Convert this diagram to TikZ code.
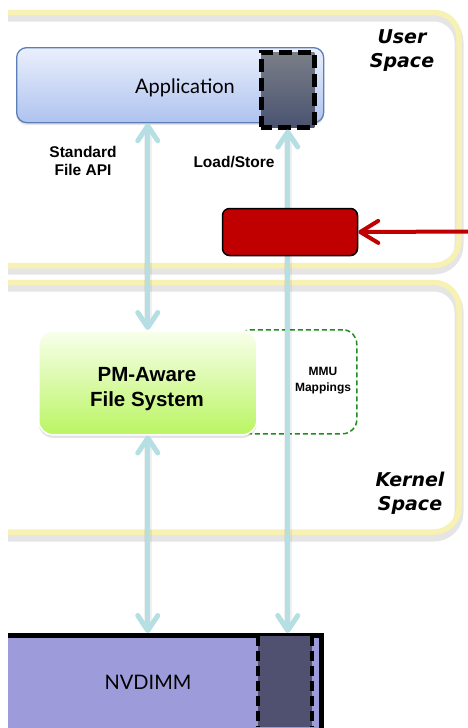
\documentclass[tikz,border=0pt]{standalone}
\usepackage{fontspec}
\setmainfont{Liberation Sans}
\newfontfamily\gillf{Lato}
\newfontfamily\verdf{DejaVu Sans}
\usetikzlibrary{arrows.meta,shadows}
\definecolor{panelyel}{HTML}{F7F1B3}
\definecolor{appborder}{HTML}{5C7EB8}
\definecolor{apptop}{HTML}{EAEFFC}
\definecolor{appbot}{HTML}{AFC3EF}
\definecolor{memtop}{HTML}{7A7E88}
\definecolor{membot}{HTML}{4A5470}
\definecolor{arrowblue}{HTML}{B5DFE3}
\definecolor{redbox}{HTML}{C00000}
\definecolor{pmtop}{HTML}{F9FFEC}
\definecolor{pmbot}{HTML}{BAF562}
\definecolor{mmugreen}{HTML}{1E8C1E}
\definecolor{nvfill}{HTML}{9E9BDB}
\definecolor{nvmemfill}{HTML}{505070}
\tikzset{
  panelline/.style={draw=panelyel, line width=5.5pt, rounded corners=25pt},
  panelshade/.style={draw=black, opacity=0.10, line width=9pt, rounded corners=25pt},
  appbox/.style={anchor=north west, inner sep=0pt, minimum width=307pt, minimum height=75pt,
    rounded corners=10pt, draw=appborder, line width=1.3pt, top color=apptop, bottom color=appbot,
    drop shadow={opacity=0.2, shadow xshift=0pt, shadow yshift=-2.5pt}},
  membox/.style={anchor=north west, inner sep=0pt, minimum width=53pt, minimum height=75pt,
    draw=black, line width=4.5pt, dash pattern=on 13pt off 6pt, dash phase=2pt, top color=memtop, bottom color=membot},
  lbl/.style={font=\bfseries\fontsize{15.5}{18}\selectfont, align=center, inner sep=0pt},
  spacelbl/.style={font=\verdf\bfseries\itshape\fontsize{19}{24}\selectfont, align=center, inner sep=0pt},
  gilllbl/.style={font=\gillf\fontsize{20}{24}\selectfont, inner sep=0pt, anchor=base},
  bluearrow/.style={draw=arrowblue, line width=5pt,
    {Straight Barb[length=15pt,width=20pt,line width=5pt,round]}-{Straight Barb[length=15pt,width=20pt,line width=5pt,round]},
    preaction={draw=black, opacity=0.06, line width=8pt, shorten >=10pt, shorten <=10pt, arrows=-}},
  redboxstyle/.style={anchor=north west, inner sep=0pt, minimum width=135pt, minimum height=47pt,
    rounded corners=7pt, fill=redbox, draw=black, line width=1.5pt},
  redarrow/.style={draw=redbox, line width=4pt, -{Straight Barb[length=18pt,width=22pt,line width=4pt,round]}},
  pmbox/.style={anchor=north west, inner sep=0pt, minimum width=218pt, minimum height=104pt,
    rounded corners=14pt, draw=white, line width=1.5pt, top color=pmtop, bottom color=pmbot,
    drop shadow={opacity=0.22, shadow xshift=0pt, shadow yshift=-3pt}},
  mmubox/.style={anchor=north west, inner sep=0pt, minimum width=120pt, minimum height=104pt,
    rounded corners=14pt, draw=mmugreen, line width=1.5pt, dash pattern=on 5pt off 3pt},
  nvbox/.style={anchor=north west, inner sep=0pt, minimum width=318.5pt, minimum height=95.5pt,
    fill=nvfill, draw=black, line width=5pt},
  nvmembox/.style={anchor=north west, inner sep=0pt, minimum width=54.5pt, minimum height=91pt,
    fill=nvmemfill},
  memdash/.style={draw=black, line width=4pt, dash pattern=on 10pt off 5pt},
}
\begin{document}
\begin{tikzpicture}[x=1pt,y=-1pt]
\useasboundingbox (0,0) rectangle (468,728);
\clip (8,-5) rectangle (470,730);
% panels
\draw[panelshade] (0,17) -- (459,17) -- (459,270) -- (0,270);
\draw[panelline] (0,12.5) -- (459,12.5) -- (459,265.5) -- (0,265.5);
\draw[panelshade] (0,287) -- (459,287) -- (459,537) -- (0,537);
\draw[panelline] (0,282.5) -- (459,282.5) -- (459,532) -- (0,532);
% application
\node[appbox] (app) at (16,47) {};
\node[gilllbl] (apptext) at (185,93) {Application};
\node[membox] (appmem) at (259,50) {};
% labels
\node[lbl] (stdapi) at (83,160.5) {Standard\\File API};
\node[lbl, anchor=base] (loadstore) at (234,167) {Load/Store};
% kernel
\node[mmubox] (mmu) at (236,329) {};
\node[pmbox] (pm) at (38,330) {};
\node[font=\bfseries\fontsize{20.5}{25}\selectfont, align=center, inner sep=0pt] (pmtext) at (147,389.5) {PM-Aware\\File System};
\node[font=\bfseries\fontsize{12}{16}\selectfont, align=center, inner sep=0pt] (mmutext) at (323,381) {MMU\\Mappings};
% space labels
\node[spacelbl] (userlbl) at (402,50.5) {User\\Space};
\node[spacelbl] (kernlbl) at (410,493.7) {Kernel\\Space};
% NVDIMM
\node[nvbox] (nv) at (0,633) {};
\node[nvmembox] (nvmem) at (257.5,635.5) {};
\draw[memdash] (nvmem.north west) -- (nvmem.south west);
\draw[memdash] (nvmem.north east) -- (nvmem.south east);
\node[gilllbl] (nvtext) at (148,689) {NVDIMM};
% blue arrows
\draw[bluearrow] (pm.north |- app.south) -- (pm.north);
\draw[bluearrow] (pm.south) -- (pm.south |- nv.north);
\draw[bluearrow] (appmem.south) -- (appmem.south |- nv.north);
% red box and arrow
\node[redboxstyle] (red) at (221.75,207.75) {};
\coordinate (redsrc) at (472,231.5);
\draw[redarrow] (redsrc) -- (red.east);
\end{tikzpicture}
\end{document}
